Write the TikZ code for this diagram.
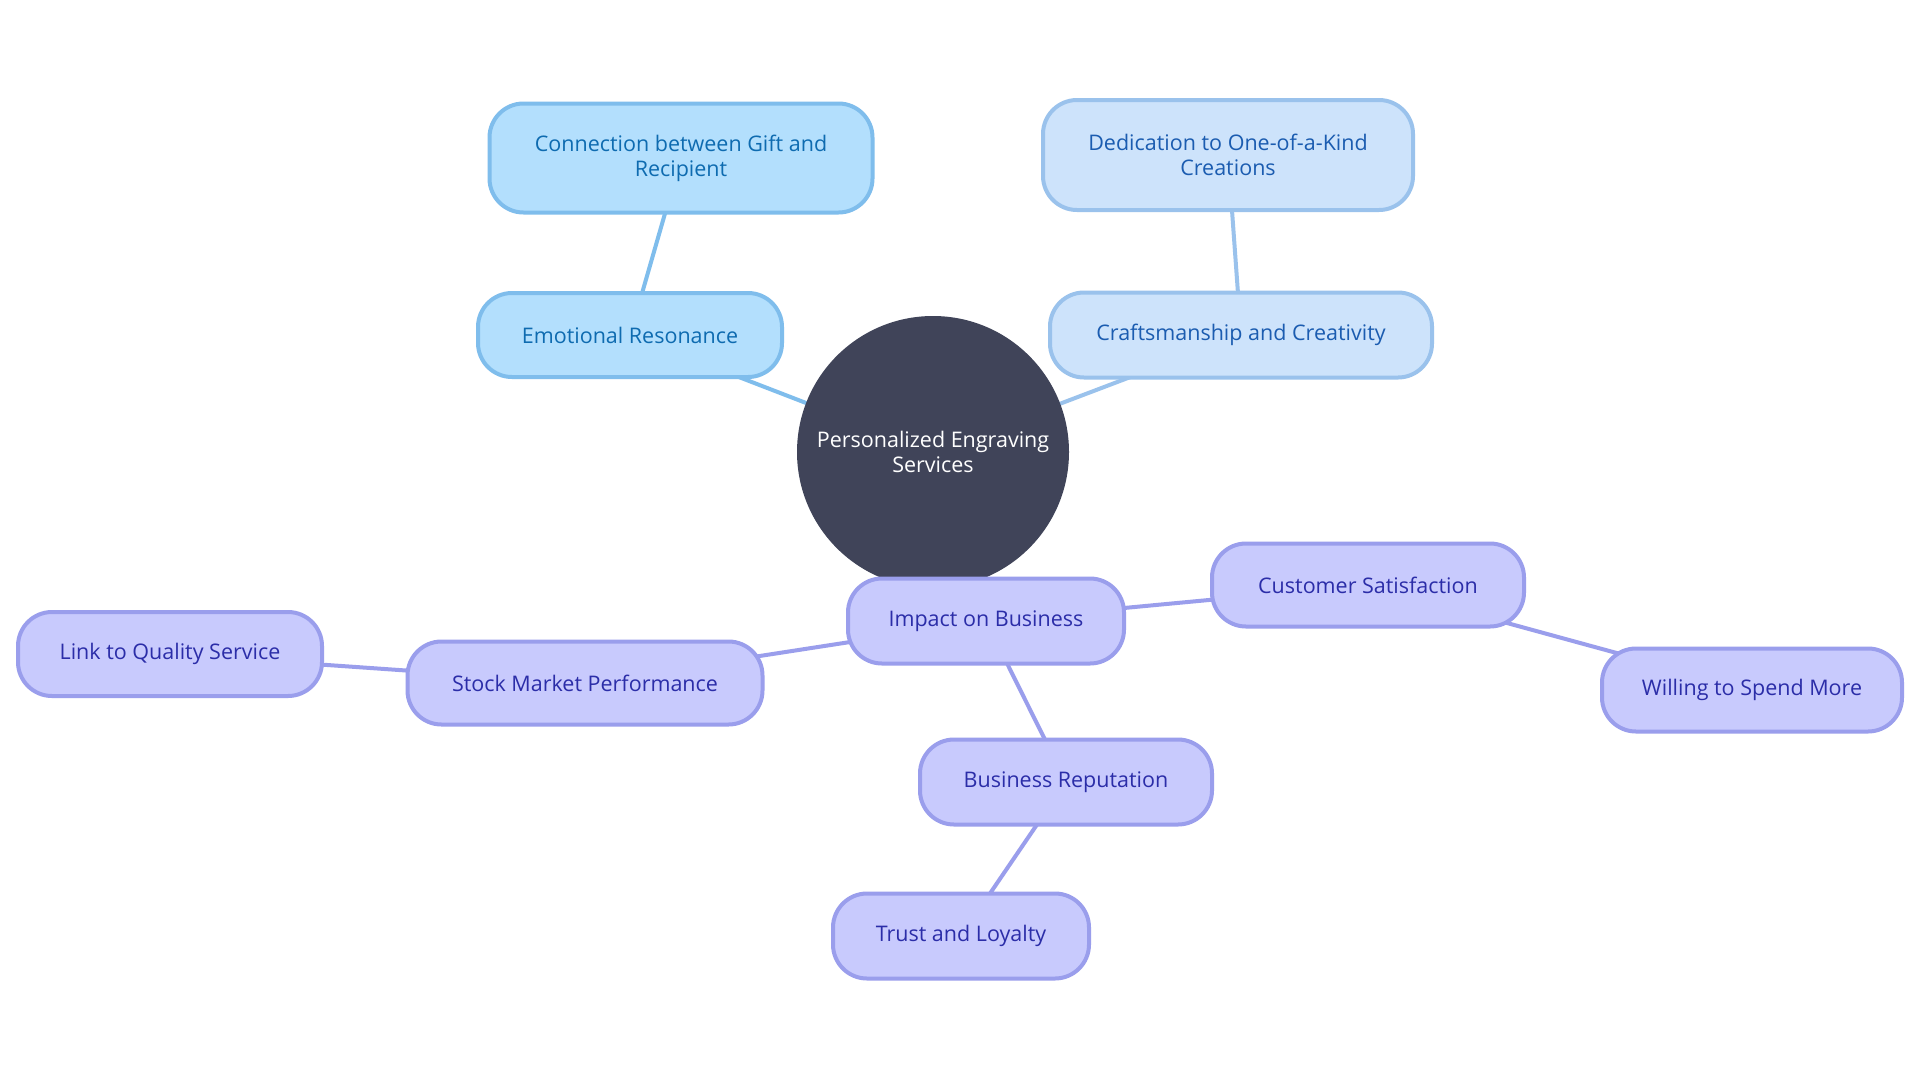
\documentclass[tikz,border=0pt]{standalone}
\usepackage{fontspec}
\setmainfont{Open Sans}
\usetikzlibrary{backgrounds}
\definecolor{cfillA}{HTML}{B3DFFD}
\definecolor{cdrawA}{HTML}{7FBDEC}
\definecolor{ctextA}{HTML}{0E6BB0}
\definecolor{cfillB}{HTML}{CDE3FB}
\definecolor{cdrawB}{HTML}{9AC2EC}
\definecolor{ctextB}{HTML}{1B5CB0}
\definecolor{cfillC}{HTML}{C8CAFD}
\definecolor{cdrawC}{HTML}{9A9EEC}
\definecolor{ctextC}{HTML}{2B2DA8}
\definecolor{ccore}{HTML}{404459}
\tikzset{
  x=1pt, y=-1pt,
  box/.style={rectangle, rounded corners=34pt, line width=4pt, align=center, inner sep=0pt,
    font=\fontsize{21.5}{25}\selectfont},
  boxA/.style={box, fill=cfillA, draw=cdrawA, text=ctextA},
  boxB/.style={box, fill=cfillB, draw=cdrawB, text=ctextB},
  boxC/.style={box, fill=cfillC, draw=cdrawC, text=ctextC},
  edgeA/.style={draw=cdrawA, line width=4pt},
  edgeB/.style={draw=cdrawB, line width=4pt},
  edgeC/.style={draw=cdrawC, line width=4pt},
}
\begin{document}
\begin{tikzpicture}
\useasboundingbox (0,0) rectangle (1920,1080);
% core
\node[circle, fill=ccore, text=white, minimum size=272pt, inner sep=0pt, align=center,
  font=\fontsize{21.5}{25}\selectfont] (core) at (933,452) {Personalized Engraving\\Services};
% nodes
\node[boxA, minimum width=383pt, minimum height=109pt] (conn) at (681,158) {Connection between Gift and\\Recipient};
\node[boxA, minimum width=304pt, minimum height=84pt] (emo) at (630,335) {Emotional Resonance};
\node[boxB, minimum width=370pt, minimum height=110pt] (ded) at (1228,155) {Dedication to One-of-a-Kind\\Creations};
\node[boxB, minimum width=382pt, minimum height=85pt] (craft) at (1241,335) {Craftsmanship and Creativity};
\node[boxC, minimum width=276pt, minimum height=85pt] (imp) at (986,621) {Impact on Business};
\node[boxC, minimum width=355pt, minimum height=83pt] (stock) at (585,683) {Stock Market Performance};
\node[boxC, minimum width=304pt, minimum height=84pt] (link) at (170,654) {Link to Quality Service};
\node[boxC, minimum width=312pt, minimum height=83pt] (cust) at (1368,585) {Customer Satisfaction};
\node[boxC, minimum width=300pt, minimum height=83pt] (will) at (1752,690) {Willing to Spend More};
\node[boxC, minimum width=292pt, minimum height=85pt] (rep) at (1066,782) {Business Reputation};
\node[boxC, minimum width=256pt, minimum height=85pt] (trust) at (961,936) {Trust and Loyalty};
% edges behind
\begin{scope}[on background layer]
\fill[white] (0,0) rectangle (1920,1080);
\draw[edgeA] (core.center) -- (emo.center);
\draw[edgeA] (emo.center) -- (conn.center);
\draw[edgeB] (core.center) -- (craft.center);
\draw[edgeB] (craft.center) -- (ded.center);
\draw[edgeC] (core.center) -- (imp.center);
\draw[edgeC] (imp.center) -- (stock.center);
\draw[edgeC] (stock.center) -- (link.center);
\draw[edgeC] (imp.center) -- (cust.center);
\draw[edgeC] (cust.center) -- (will.center);
\draw[edgeC] (imp.center) -- (rep.center);
\draw[edgeC] (rep.center) -- (trust.center);
\end{scope}
\end{tikzpicture}
\end{document}
